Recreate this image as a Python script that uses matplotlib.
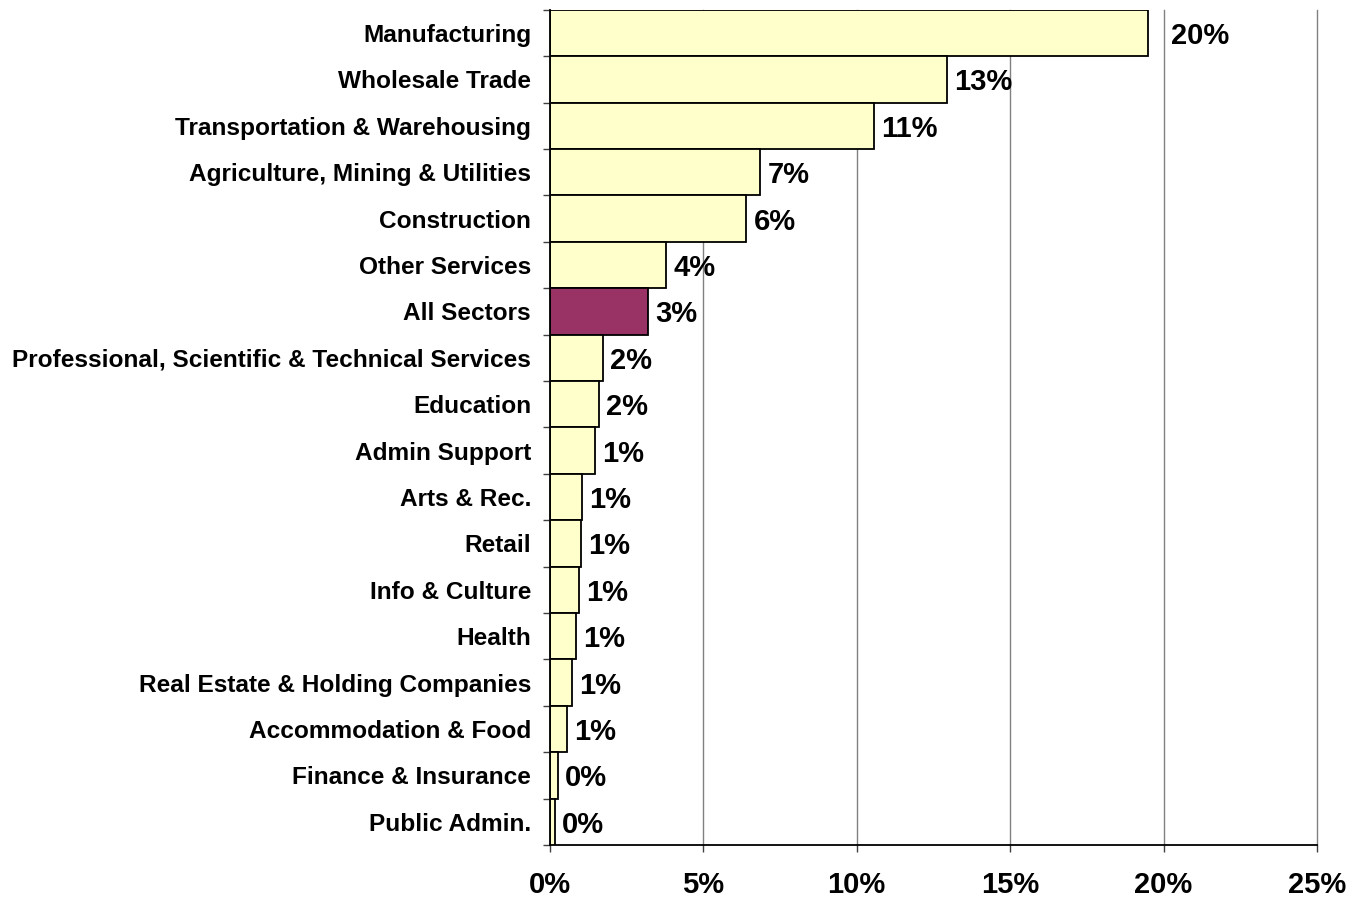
import matplotlib
matplotlib.use("Agg")
import matplotlib.pyplot as plt
from matplotlib.ticker import FuncFormatter, FixedLocator

categories = ["Manufacturing", "Wholesale Trade", "Transportation & Warehousing",
              "Agriculture, Mining & Utilities", "Construction", "Other Services",
              "All Sectors", "Professional, Scientific & Technical Services",
              "Education", "Admin Support", "Arts & Rec.", "Retail", "Info & Culture",
              "Health", "Real Estate & Holding Companies", "Accommodation & Food",
              "Finance & Insurance", "Public Admin."]
values = [19.5, 12.95, 10.55, 6.85, 6.4, 3.8, 3.2, 1.73, 1.6, 1.47, 1.04, 1.0,
          0.95, 0.85, 0.72, 0.55, 0.26, 0.16]
labels = ["20%", "13%", "11%", "7%", "6%", "4%", "3%", "2%", "2%", "1%", "1%",
          "1%", "1%", "1%", "1%", "1%", "0%", "0%"]
highlight = "All Sectors"

plt.rcParams['font.family'] = ['Liberation Sans', 'DejaVu Sans']

fig = plt.figure(figsize=(13.61, 9.01), dpi=100)
ax = fig.add_axes([0.404, 0.0622, 0.9677 - 0.404, 0.989 - 0.0622])

n = len(categories)
ypos = list(range(n))
colors = ["#993366" if c == highlight else "#FFFFCC" for c in categories]
ax.barh(ypos, values, height=1.0, color=colors, edgecolor="black", linewidth=1.3, zorder=3)

ax.set_xlim(0, 25)
ax.set_ylim(n - 0.5, -0.5)
ax.xaxis.set_major_locator(FixedLocator([0, 5, 10, 15, 20, 25]))
ax.xaxis.set_major_formatter(FuncFormatter(lambda v, p: f"{v:.0f}%"))
ax.grid(axis="x", color="#808080", linewidth=1.0, zorder=0)
ax.set_axisbelow(True)

ax.set_yticks([i - 0.5 for i in range(n + 1)], minor=False)
ax.set_yticklabels([])
ax.set_yticks(ypos, minor=True)
ax.set_yticklabels(categories, minor=True, fontsize=17.6, fontweight="bold")
ax.tick_params(axis="y", which="minor", length=0, pad=13.5)
ax.tick_params(axis="y", which="major", length=5, width=1.0, color="#404040", direction="out")
ax.tick_params(axis="x", length=5, width=1.0, color="#404040", pad=14, labelsize=21)
for t in ax.get_xticklabels():
    t.set_fontweight("bold")

for s in ["top", "right"]:
    ax.spines[s].set_visible(False)
ax.spines["left"].set_linewidth(1.3)
ax.spines["bottom"].set_linewidth(1.3)
ax.spines["left"].set_zorder(4)

for i, (v, lab) in enumerate(zip(values, labels)):
    off = 0.74 if i == 0 else 0.24
    ax.text(v + off, i, lab, va="center_baseline", ha="left", fontsize=21,
            fontweight="bold", zorder=5)

fig.canvas.draw()
for gl in ax.xaxis.get_gridlines():
    gl.set_clip_on(False)

fig.savefig("out.png", dpi=100)
